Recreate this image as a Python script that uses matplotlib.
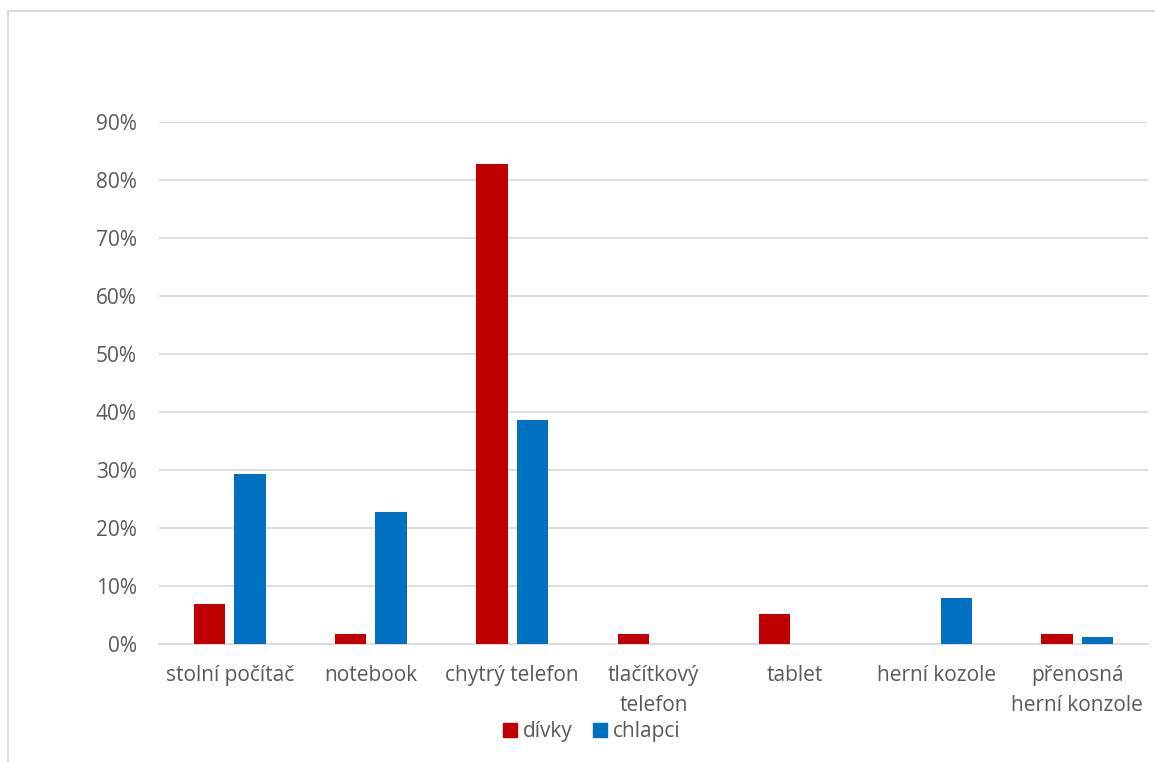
import numpy as np
import matplotlib.pyplot as plt
from matplotlib.patches import Rectangle, Patch
from matplotlib.ticker import FuncFormatter

plt.rcParams['font.family'] = ['Open Sans', 'DejaVu Sans']

categories = ['stolní počítač', 'notebook', 'chytrý telefon', 'tlačítkový\ntelefon',
              'tablet', 'herní kozole', 'přenosná\nherní konzole']
divky = [0.069, 0.017, 0.828, 0.017, 0.052, 0.0, 0.017]
chlapci = [0.293, 0.227, 0.387, 0.0, 0.0, 0.080, 0.012]

red = '#C00000'
blue = '#0070C0'
grey_text = '#595959'
grid_col = '#D9D9D9'

fig = plt.figure(figsize=(11.55, 7.62), dpi=100)
W, H = 1155, 762

# outer chart frame (only top and left edges fall inside the image)
fig.patches.append(Rectangle((8 / W, -0.2), 1.2, 1.2 - 11 / H, transform=fig.transFigure,
                             fill=False, edgecolor=grid_col, linewidth=1.5))

ax = fig.add_axes([159 / W, (H - 644) / H, (1148 - 159) / W, (644 - 122) / H])

x = np.arange(len(categories))
w = 0.222
gap = 0.064
ax.bar(x - (w + gap) / 2, divky, w, color=red, zorder=3)
ax.bar(x + (w + gap) / 2, chlapci, w, color=blue, zorder=3)

ax.set_xlim(-0.5, len(categories) - 0.5)
ax.set_ylim(0, 0.9)
ax.set_yticks(np.arange(0, 0.91, 0.1))
ax.yaxis.set_major_formatter(FuncFormatter(lambda v, p: f'{v * 100:.0f}%'))
ax.grid(axis='y', color=grid_col, linewidth=1.3, zorder=0)
ax.set_xticks(x)
ax.set_xticklabels(categories, linespacing=1.55)
ax.tick_params(axis='both', length=0, colors=grey_text, labelsize=15)
ax.tick_params(axis='y', pad=16)
ax.tick_params(axis='x', pad=15)
for s in ['top', 'right', 'left']:
    ax.spines[s].set_visible(False)
ax.spines['bottom'].set_color(grid_col)
ax.spines['bottom'].set_linewidth(1.3)

handles = [Patch(color=red, label='dívky'), Patch(color=blue, label='chlapci')]
fig.legend(handles=handles, loc='center', bbox_to_anchor=(592 / W, (H - 732) / H),
           ncol=2, frameon=False, fontsize=15, labelcolor=grey_text,
           handlelength=0.65, handleheight=0.65, handletextpad=0.3, columnspacing=1.0,
           borderpad=0)

fig.savefig('out.png', dpi=100)
